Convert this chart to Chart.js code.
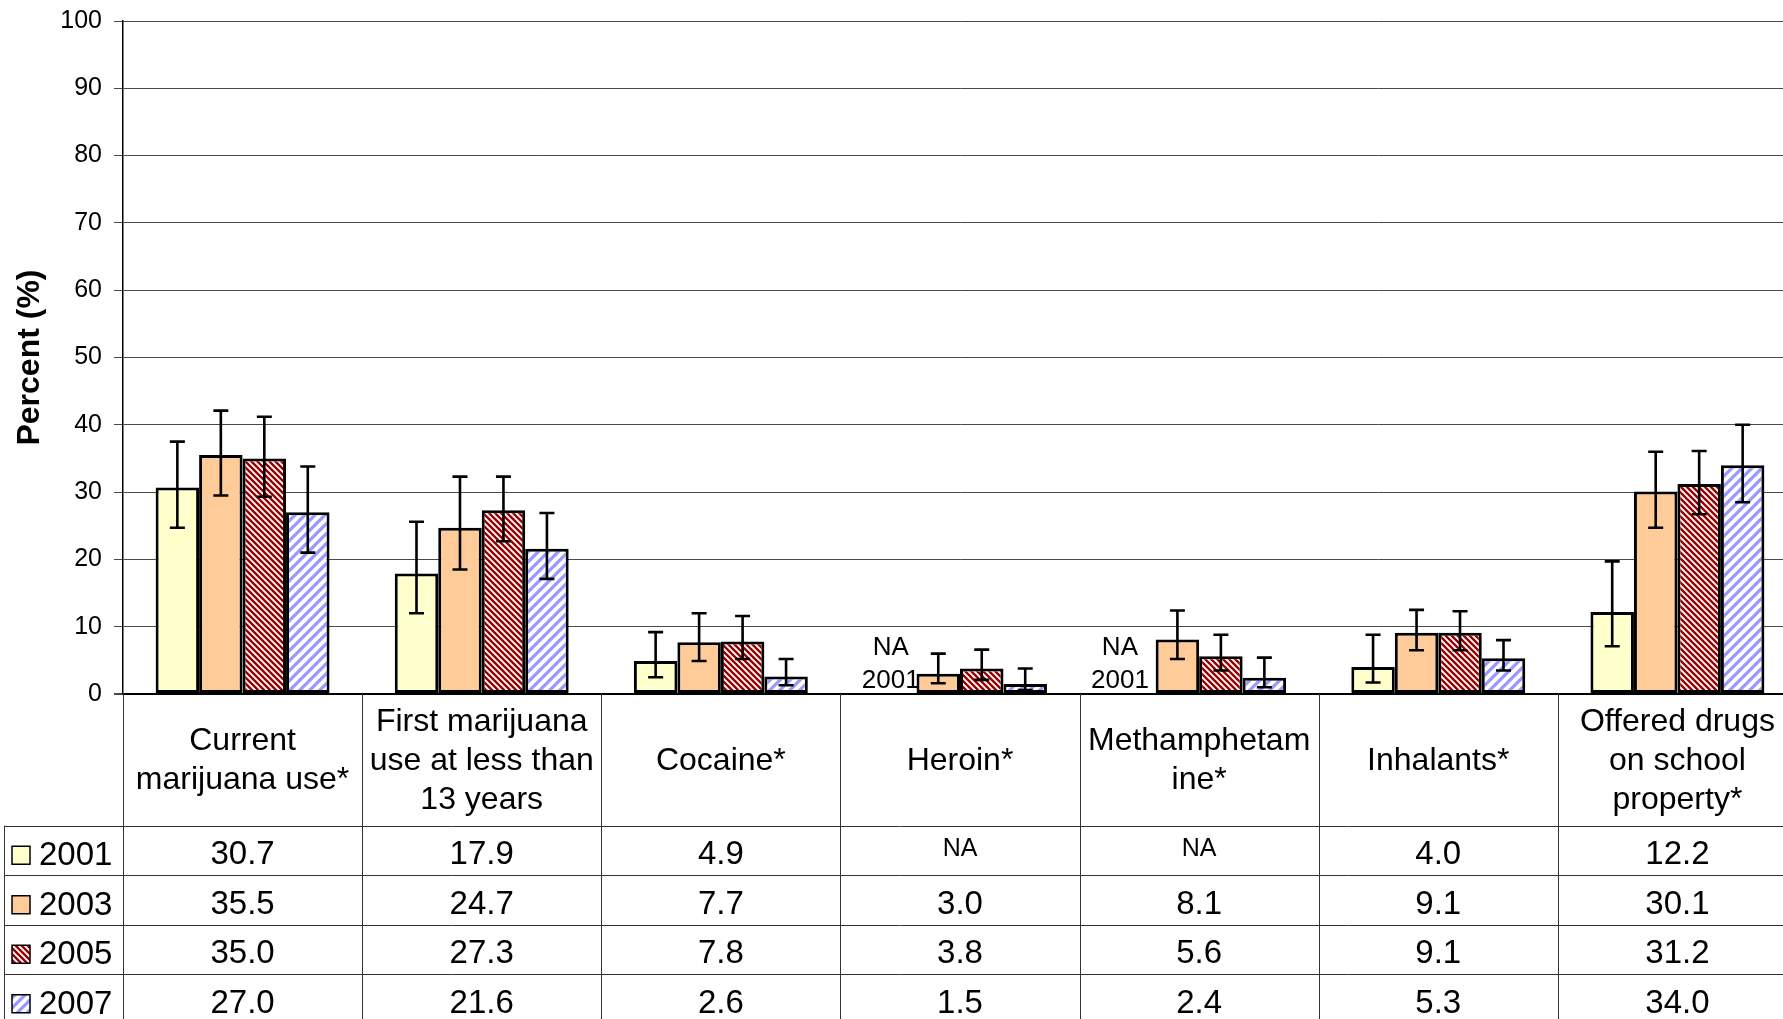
<!DOCTYPE html>
<html><head><meta charset="utf-8">
<script src="https://cdn.jsdelivr.net/npm/chart.js@4.4.1/dist/chart.umd.min.js"></script>
<style>html,body{margin:0;padding:0;overflow:hidden;background:#fff}canvas{display:block}</style>
</head><body>
<canvas id="c" width="1800" height="1019"></canvas>
<script>
// ---------- DATA ----------
const categories = [
  ["Current", "marijuana use*"],
  ["First marijuana", "use at less than", "13 years"],
  ["Cocaine*"],
  ["Heroin*"],
  ["Methamphetam", "ine*"],
  ["Inhalants*"],
  ["Offered drugs", "on school", "property*"]
];
const years = ["2001", "2003", "2005", "2007"];
const v2001 = [30.7, 17.9, 4.9, null, null, 4.0, 12.2];
const v2003 = [35.5, 24.7, 7.7, 3.0, 8.1, 9.1, 30.1];
const v2005 = [35.0, 27.3, 7.8, 3.8, 5.6, 9.1, 31.2];
const v2007 = [27.0, 21.6, 2.6, 1.5, 2.4, 5.3, 34.0];
// 95% confidence limits (lower / upper)
const lo2001 = [24.7, 12.0, 2.5, null, null, 1.7, 7.1];
const hi2001 = [37.5, 25.6, 9.2, null, null, 8.8, 19.7];
const lo2003 = [29.5, 18.5, 4.9, 1.6, 5.2, 6.5, 24.7];
const hi2003 = [42.1, 32.3, 12.0, 6.0, 12.4, 12.5, 36.0];
const lo2005 = [29.3, 22.7, 5.2, 2.1, 3.5, 6.5, 26.7];
const hi2005 = [41.2, 32.3, 11.6, 6.6, 8.8, 12.3, 36.1];
const lo2007 = [21.0, 17.1, 1.3, 0.6, 1.0, 3.5, 28.5];
const hi2007 = [33.8, 26.9, 5.2, 3.8, 5.4, 8.0, 40.0];
const naText = "NA";
const yTitle = "Percent (%)";

// ---------- STYLES ----------
const FONT = '"Liberation Sans", Arial, Helvetica, sans-serif';
const ctx0 = document.getElementById('c').getContext('2d');
// horizontal nudge (px) of the "NA 2001" labels, as placed in the original
const naNudge = [0, 0, 0, -4, -14, 0, 0];

function stripePattern(size, bg, fg, lw, dir) {
  const c = document.createElement('canvas');
  c.width = size; c.height = size;
  const g = c.getContext('2d');
  g.fillStyle = bg; g.fillRect(0, 0, size, size);
  g.strokeStyle = fg; g.lineWidth = lw; g.lineCap = 'square';
  g.beginPath();
  for (let k = -1; k <= 1; k++) {
    if (dir === 'back') { // "\" direction
      g.moveTo(k * size, 0); g.lineTo(k * size + size, size);
    } else {              // "/" direction
      g.moveTo(k * size, size); g.lineTo(k * size + size, 0);
    }
  }
  g.stroke();
  return ctx0.createPattern(c, 'repeat');
}
const fills = [
  '#FFFFCC',
  '#FFCC99',
  stripePattern(6, '#ffffff', '#990000', 2.4, 'back'),
  stripePattern(10, '#ffffff', '#9999FF', 3.2, 'fwd')
];
const values = [v2001, v2003, v2005, v2007];
const lows = [lo2001, lo2003, lo2005, lo2007];
const highs = [hi2001, hi2003, hi2005, hi2007];
const CAT_PCT = 4 / 5.5;

// ---------- PLUGINS ----------
const errorBars = {
  id: 'errorBars',
  afterDatasetsDraw(chart) {
    const ys = chart.scales.y, ctx = chart.ctx;
    ctx.save();
    ctx.strokeStyle = '#000'; ctx.lineWidth = 2.6; ctx.lineCap = 'butt';
    values.forEach((_, i) => {
      const meta = chart.getDatasetMeta(i);
      lows[i].forEach((l, j) => {
        const h = highs[i][j];
        if (l == null || h == null) return;
        const x = meta.data[j].x;
        const yt = ys.getPixelForValue(h), yb = ys.getPixelForValue(l);
        ctx.beginPath();
        ctx.moveTo(x, yt); ctx.lineTo(x, yb);
        ctx.moveTo(x - 7.5, yt); ctx.lineTo(x + 7.5, yt);
        ctx.moveTo(x - 7.5, yb); ctx.lineTo(x + 7.5, yb);
        ctx.stroke();
      });
    });
    ctx.restore();
  }
};

const naLabels = {
  id: 'naLabels',
  afterDatasetsDraw(chart) {
    const xs = chart.scales.x, ys = chart.scales.y, ctx = chart.ctx;
    const catW = xs.width / categories.length;
    const barW = catW * CAT_PCT / years.length;
    const y0 = ys.getPixelForValue(0);
    ctx.save();
    ctx.fillStyle = '#000';
    ctx.font = '26px ' + FONT;
    ctx.textAlign = 'center'; ctx.textBaseline = 'middle';
    v2001.forEach((v, j) => {
      if (v != null) return;
      const x = xs.getPixelForValue(j) - 1.5 * barW + naNudge[j];
      ctx.fillText(naText, x, y0 - 46);
      ctx.fillText(years[0], x, y0 - 13);
    });
    ctx.restore();
  }
};

const dataTable = {
  id: 'dataTable',
  afterDraw(chart) {
    const xs = chart.scales.x, ys = chart.scales.y, ctx = chart.ctx;
    const n = categories.length;
    const catW = xs.width / n;
    const left = chart.chartArea.left;
    const top = ys.getPixelForValue(0);
    const headerH = 131.5, rowH = 49.5;
    const legendLeft = 4;
    const bottom = top + headerH + rowH * years.length;
    ctx.save();
    // grid lines
    ctx.strokeStyle = '#333'; ctx.lineWidth = 1;
    ctx.beginPath();
    for (let k = 0; k <= n; k++) {
      const x = Math.round(left + k * catW) + 0.5;
      ctx.moveTo(x, top); ctx.lineTo(x, bottom);
    }
    ctx.moveTo(legendLeft + 0.5, top + headerH); ctx.lineTo(legendLeft + 0.5, bottom);
    for (let r = 0; r <= years.length; r++) {
      const y = Math.round(top + headerH + r * rowH) + 0.5;
      ctx.moveTo(legendLeft, y); ctx.lineTo(left + n * catW, y);
    }
    ctx.stroke();
    // category header
    ctx.fillStyle = '#000';
    ctx.font = '32px ' + FONT;
    ctx.textAlign = 'center'; ctx.textBaseline = 'middle';
    const lh = 39;
    categories.forEach((lines, j) => {
      const cx = xs.getPixelForValue(j);
      const cy = top + headerH / 2 + 1;
      lines.forEach((t, k) => {
        ctx.fillText(t, cx, cy + (k - (lines.length - 1) / 2) * lh);
      });
    });
    // rows
    years.forEach((yr, i) => {
      const cy = top + headerH + (i + 0.5) * rowH + 5;
      // legend swatch
      const sx = 12, sw = 18;
      ctx.fillStyle = fills[i];
      ctx.fillRect(sx, cy - sw / 2, sw, sw);
      ctx.strokeStyle = '#000'; ctx.lineWidth = 1.5;
      ctx.strokeRect(sx, cy - sw / 2, sw, sw);
      ctx.fillStyle = '#000';
      ctx.textAlign = 'left';
      ctx.font = '33px ' + FONT;
      ctx.fillText(yr, 39, cy + 1);
      ctx.textAlign = 'center';
      values[i].forEach((v, j) => {
        const cx = xs.getPixelForValue(j);
        if (v == null) {
          ctx.font = '25px ' + FONT;
          ctx.fillText(naText, cx, cy - 6);
        } else {
          ctx.font = '33px ' + FONT;
          ctx.fillText(v.toFixed(1), cx, cy);
        }
      });
    });
    ctx.restore();
  }
};

// ---------- CHART ----------
new Chart(ctx0, {
  type: 'bar',
  data: {
    labels: categories,
    datasets: years.map((yr, i) => ({
      label: yr,
      data: values[i],
      backgroundColor: fills[i],
      borderColor: '#000',
      borderWidth: 3,
      borderSkipped: false,
      categoryPercentage: CAT_PCT,
      barPercentage: 1
    }))
  },
  options: {
    responsive: false,
    animation: false,
    devicePixelRatio: 1,
    layout: { padding: { left: 0, top: 21, right: 3, bottom: 325 } },
    plugins: { legend: { display: false }, tooltip: { enabled: false } },
    scales: {
      x: { display: false, grid: { display: false } },
      y: {
        min: 0, max: 100,
        afterFit(s) { s.width = 123; s.paddingTop = 10; s.paddingBottom = 10; },
        ticks: { stepSize: 10, color: '#000', font: { family: FONT, size: 25 }, padding: 12 },
        grid: {
          color: (c) => c.tick && c.tick.value === 0 ? '#000' : '#4a4a4a',
          lineWidth: (c) => c.tick && c.tick.value === 0 ? 2 : 1,
          tickLength: 9,
          tickColor: '#4a4a4a'
        },
        border: { color: '#000', width: 1.5 },
        title: {
          display: true, text: yTitle, color: '#000',
          font: { family: FONT, size: 32, weight: 'bold' },
          padding: { top: 11, bottom: 0 }
        }
      }
    }
  },
  plugins: [errorBars, naLabels, dataTable]
});
</script>
</body></html>
